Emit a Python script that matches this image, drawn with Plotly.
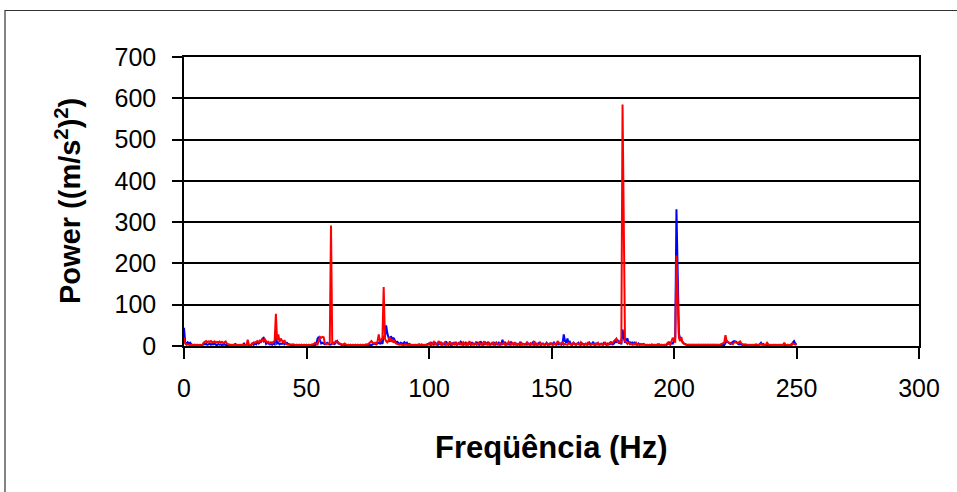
import numpy as np
import plotly.graph_objects as go

# Frequency axis: 0 .. 250 Hz in 0.5 Hz steps (501 samples)
freq_start = 0.0
freq_step = 0.5

# Blue series (first measurement), one row = 10 Hz
blue_power = [
    44, 8, 5, 9, 6, 8, 4, 3, 2, 3, 2, 3, 2, 3, 2, 2, 5, 4, 6, 3,
    4, 6, 3, 5, 4, 6, 3, 2, 5, 3, 4, 2, 3, 5, 2, 3, 2, 3, 2, 3,
    2, 3, 5, 2, 3, 2, 3, 2, 3, 6, 2, 3, 5, 2, 3, 2, 8, 3, 6, 4,
    10, 6, 8, 12, 18, 20, 14, 5, 8, 6, 4, 5, 3, 6, 4, 30, 6, 8, 4, 6,
    5, 8, 4, 6, 8, 5, 3, 2, 3, 2, 3, 2, 3, 2, 3, 2, 3, 2, 3, 2,
    3, 2, 3, 2, 3, 2, 3, 2, 4, 18, 22, 12, 6, 8, 5, 4, 6, 8, 5, 3,
    4, 6, 8, 5, 10, 12, 6, 4, 3, 2, 3, 2, 3, 2, 3, 2, 3, 2, 3, 2,
    3, 2, 3, 2, 3, 2, 3, 2, 3, 2, 3, 2, 3, 2, 4, 6, 5, 4, 6, 8,
    6, 10, 5, 22, 20, 50, 30, 18, 10, 24, 15, 20, 12, 8, 10, 6, 5, 8, 4, 7,
    9, 4, 8, 3, 5, 3, 2, 3, 2, 3, 2, 3, 4, 2, 3, 2, 3, 2, 3, 4,
    6, 3, 9, 4, 3, 8, 5, 3, 4, 10, 3, 6, 4, 3, 11, 4, 3, 6, 2, 8,
    3, 9, 4, 3, 7, 3, 10, 5, 3, 4, 8, 3, 5, 6, 3, 9, 4, 3, 5, 10,
    4, 3, 11, 5, 3, 4, 8, 3, 10, 4, 3, 6, 4, 9, 3, 5, 4, 8, 3, 4,
    15, 4, 10, 3, 5, 4, 3, 9, 5, 3, 4, 6, 3, 4, 3, 8, 3, 5, 4, 3,
    3, 6, 4, 3, 5, 9, 3, 4, 3, 5, 8, 3, 4, 6, 3, 4, 8, 3, 5, 4,
    6, 3, 10, 4, 3, 8, 4, 6, 3, 5, 28, 12, 8, 18, 6, 10, 4, 3, 8, 4,
    3, 5, 8, 4, 3, 6, 4, 3, 5, 3, 4, 8, 3, 5, 10, 4, 3, 6, 4, 3,
    5, 4, 3, 9, 4, 3, 6, 4, 5, 10, 4, 6, 12, 8, 15, 6, 10, 4, 40, 20,
    8, 15, 18, 6, 9, 4, 10, 3, 8, 4, 3, 6, 3, 4, 3, 5, 3, 2, 3, 2,
    3, 2, 3, 2, 3, 2, 3, 4, 3, 2, 3, 2, 3, 2, 3, 5, 10, 4, 8, 6,
    12, 20, 331, 161, 30, 18, 12, 10, 6, 4, 3, 2, 3, 2, 3, 2, 3, 2, 3, 2,
    3, 2, 3, 2, 3, 2, 3, 2, 3, 2, 3, 2, 3, 2, 3, 1, 0, 2, 3, 2,
    3, 2, 6, 12, 9, 6, 5, 8, 10, 12, 11, 10, 6, 4, 5, 3, 2, 3, 2, 3,
    2, 3, 2, 3, 2, 3, 2, 3, 2, 3, 4, 8, 3, 5, 2, 3, 2, 3, 2, 3,
    2, 3, 2, 3, 2, 3, 2, 3, 2, 3, 2, 3, 2, 3, 2, 3, 4, 8, 12, 6,
    3,
]

# Red series (second measurement), one row = 10 Hz
red_power = [
    20, 6, 3, 4, 3, 2, 3, 2, 3, 3, 2, 3, 3, 2, 3, 2, 8, 10, 12, 9,
    11, 10, 12, 9, 10, 11, 8, 10, 9, 11, 8, 10, 7, 9, 11, 6, 4, 3, 3, 2,
    3, 2, 3, 2, 2, 3, 2, 3, 2, 3, 3, 2, 15, 3, 2, 3, 6, 9, 8, 10,
    12, 9, 13, 10, 15, 11, 16, 12, 8, 10, 6, 9, 7, 10, 12, 78, 14, 28, 10, 18,
    12, 8, 14, 6, 4, 3, 4, 3, 3, 4, 3, 2, 3, 2, 3, 2, 3, 2, 3, 2,
    3, 2, 3, 2, 3, 4, 5, 8, 6, 4, 12, 22, 20, 22, 21, 6, 4, 6, 5, 8,
    292, 6, 5, 8, 12, 10, 9, 6, 5, 4, 3, 6, 3, 2, 3, 2, 3, 2, 3, 2,
    3, 2, 3, 2, 3, 2, 3, 2, 3, 4, 3, 6, 10, 12, 8, 6, 8, 5, 12, 28,
    10, 15, 20, 143, 18, 12, 9, 14, 22, 10, 16, 8, 12, 6, 5, 4, 3, 4, 3, 2,
    3, 4, 3, 2, 3, 2, 3, 2, 3, 2, 3, 2, 3, 2, 4, 3, 2, 3, 2, 3,
    4, 8, 3, 6, 10, 5, 3, 7, 12, 4, 8, 3, 5, 9, 3, 6, 4, 11, 5, 3,
    7, 4, 10, 3, 6, 8, 4, 3, 9, 5, 3, 7, 4, 12, 5, 3, 6, 4, 8, 3,
    5, 9, 4, 3, 7, 11, 4, 6, 3, 8, 5, 4, 10, 3, 6, 9, 4, 3, 7, 5,
    4, 8, 3, 6, 4, 10, 5, 3, 7, 4, 9, 3, 5, 4, 8, 3, 6, 4, 3, 5,
    9, 4, 3, 7, 5, 3, 12, 4, 6, 3, 4, 8, 3, 5, 4, 3, 6, 4, 3, 7,
    4, 3, 6, 5, 3, 12, 8, 4, 6, 10, 3, 5, 4, 3, 7, 4, 3, 5, 8, 4,
    3, 6, 4, 3, 9, 5, 3, 4, 6, 3, 10, 4, 3, 5, 4, 3, 6, 4, 8, 3,
    4, 6, 3, 5, 8, 4, 3, 6, 9, 5, 7, 12, 15, 18, 10, 8, 12, 6, 585, 278,
    12, 8, 5, 10, 4, 6, 3, 5, 4, 8, 3, 4, 3, 5, 3, 4, 3, 2, 3, 2,
    3, 2, 4, 3, 2, 3, 2, 3, 4, 2, 3, 2, 3, 2, 4, 8, 5, 3, 12, 20,
    15, 8, 219, 108, 20, 12, 22, 8, 5, 4, 3, 3, 2, 3, 2, 3, 2, 3, 2, 3,
    2, 3, 2, 3, 2, 3, 2, 3, 2, 3, 2, 3, 2, 3, 2, 3, 2, 3, 4, 5,
    6, 8, 26, 12, 10, 8, 7, 5, 4, 8, 10, 8, 6, 9, 11, 6, 5, 3, 4, 3,
    3, 2, 3, 2, 3, 2, 3, 4, 3, 2, 3, 5, 4, 3, 2, 3, 8, 4, 3, 2,
    3, 2, 3, 2, 3, 2, 3, 2, 3, 2, 8, 3, 2, 3, 2, 3, 2, 6, 5, 3,
    3,
]

x_ticks = [0, 50, 100, 150, 200, 250, 300]
y_ticks = [0, 100, 200, 300, 400, 500, 600, 700]

x_title = "Freqüência (Hz)"
y_title = "Power ((m/s<sup>2</sup>)<sup>2</sup>)"

freq = freq_start + freq_step * np.arange(len(red_power))

W, H = 957, 492
L, R, T, B = 184, 38, 57, 146
pw = W - L - R
ph = H - T - B

fig = go.Figure()
fig.add_trace(go.Scatter(x=freq, y=blue_power, mode="lines",
                         line=dict(color="#0000ff", width=2), showlegend=False))
fig.add_trace(go.Scatter(x=freq, y=red_power, mode="lines",
                         line=dict(color="#ff0000", width=2), showlegend=False))

font_family = "Arial, Liberation Sans, sans-serif"

fig.update_layout(
    width=W, height=H,
    margin=dict(l=L, r=R, t=T, b=B, autoexpand=False),
    paper_bgcolor="white", plot_bgcolor="white",
    font=dict(family=font_family, color="black"),
    xaxis=dict(range=[0, 300], tickvals=x_ticks, ticks="outside", ticklen=11,
               tickwidth=1.5, tickcolor="black", showline=True, linecolor="black",
               linewidth=1.5, mirror=True, showgrid=False, zeroline=False,
               tickfont=dict(size=25, family=font_family), ticklabelstandoff=8),
    yaxis=dict(range=[0, 700], tickvals=y_ticks, ticks="outside", ticklen=10,
               tickwidth=1.5, tickcolor="black", showline=True, linecolor="black",
               linewidth=1.5, mirror=True, showgrid=True, gridcolor="black",
               gridwidth=1.8, zeroline=False,
               tickfont=dict(size=25, family=font_family), ticklabelstandoff=11),
    annotations=[
        dict(text="<b>" + x_title + "</b>", xref="paper", yref="paper",
             x=0.5, y=(H - B - 447) / ph, showarrow=False,
             font=dict(size=31, family=font_family), xanchor="center", yanchor="middle"),
        dict(text="<b>" + y_title + "</b>", xref="paper", yref="paper",
             x=(68 - L) / pw, y=(H - B - 201) / ph, showarrow=False, textangle=-90,
             font=dict(size=29, family=font_family), xanchor="center", yanchor="middle"),
    ],
    shapes=[
        dict(type="rect", xref="paper", yref="paper",
             x0=(5 - L) / pw, x1=(W + 5 - L) / pw,
             y0=(H - B - (H + 5)) / ph, y1=(H - B - 10.5) / ph,
             line=dict(color="#333333", width=1.2), layer="below"),
    ],
)

fig.write_html("out.html", config={"displayModeBar": False},
               post_script="document.body.style.margin='0';")
